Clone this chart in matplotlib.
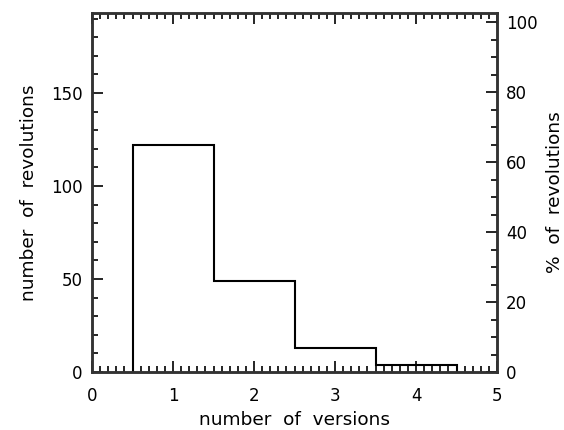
import matplotlib
matplotlib.use("Agg")
import matplotlib.pyplot as plt
from matplotlib.ticker import MultipleLocator

versions = [1, 2, 3, 4]
counts = [122, 49, 13, 4]
total = 188

plt.rcParams['font.family'] = ['DejaVu Sans']

fig = plt.figure(figsize=(5.64, 4.30), dpi=100)
ax = fig.add_axes([92/564, 1-372/430, (497-92)/564, (372-13)/430])

edges = [v - 0.5 for v in versions] + [versions[-1] + 0.5]
ax.stairs(counts, edges, color='black', lw=1.5, baseline=0)

ymax = 193
ax.set_xlim(0, 5)
ax.set_ylim(0, ymax)
ax.xaxis.set_major_locator(MultipleLocator(1))
ax.xaxis.set_minor_locator(MultipleLocator(0.1))
ax.yaxis.set_major_locator(MultipleLocator(50))
ax.yaxis.set_minor_locator(MultipleLocator(10))
ax.tick_params(which='both', direction='in', top=True, right=False, labelsize=12,
               width=1.2, colors='black')
ax.tick_params(which='major', length=8)
ax.tick_params(axis='x', which='major', pad=11)
ax.tick_params(axis='y', which='major', pad=7)
ax.tick_params(which='minor', length=4)
for s in ax.spines.values():
    s.set_linewidth(1.8)
    s.set_color('#333333')
ax.set_xlabel('number  of  versions', fontsize=13.3, labelpad=4)
ax.set_ylabel('number  of  revolutions', fontsize=13.3, labelpad=9)

ax2 = ax.twinx()
ax2.set_ylim(0, ymax / total * 100)
ax2.yaxis.set_major_locator(MultipleLocator(20))
ax2.yaxis.set_minor_locator(MultipleLocator(5))
ax2.tick_params(which='both', direction='in', labelsize=12, width=1.2)
ax2.tick_params(which='major', length=8, pad=6.5)
ax2.tick_params(which='minor', length=4)
for s in ax2.spines.values():
    s.set_linewidth(1.8)
    s.set_color('#333333')
ax2.set_ylabel('%  of  revolutions', fontsize=13.3, labelpad=6)

fig.savefig('out.png', dpi=100, facecolor='white')
